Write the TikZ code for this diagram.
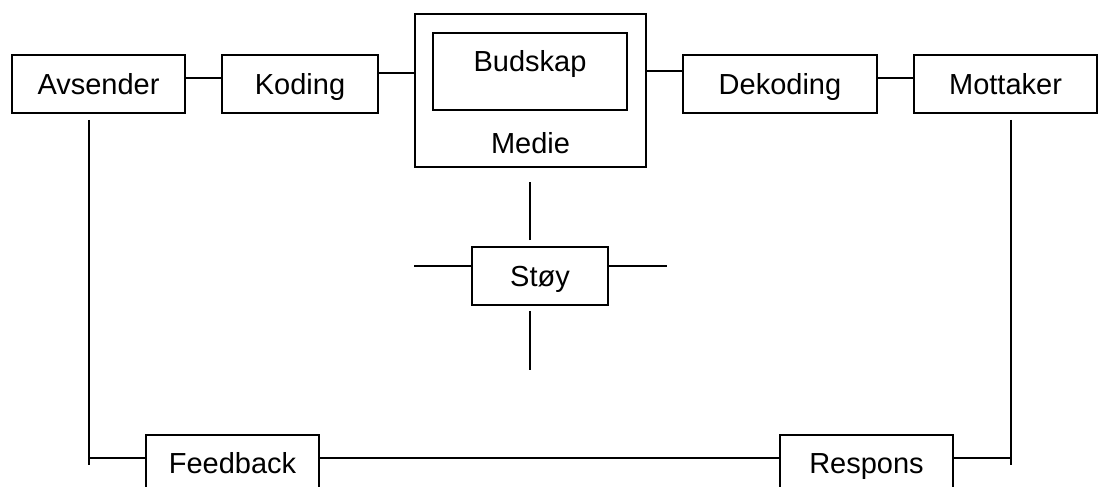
\documentclass[tikz,border=0pt]{standalone}
\usepackage{fontspec}
\setmainfont{Liberation Sans}
\begin{document}
\begin{tikzpicture}[x=1pt,y=-1pt,
  line width=1.8pt,
  box/.style={draw, rectangle, inner sep=0pt, minimum height=58pt,
    text height=20.8pt, text depth=0pt},
  lbl/.style={inner sep=0pt, text height=20.8pt, text depth=0pt},
  every node/.style={font=\fontsize{29}{34}\selectfont}]
\clip (0,0) rectangle (1098,487);
\fill[white] (0,0) rectangle (1098,487);

% top row
\node[box, minimum width=173pt] (Avsender) at (98.5,84) {Avsender};
\node[box, minimum width=156pt] (Koding) at (300,84) {Koding};
\node[box, minimum width=231pt, minimum height=153pt] (Medie) at (530.5,90.5) {};
\node[box, minimum width=194pt, minimum height=77pt] (Budskap) at (530,71.5) {};
\node[lbl] (BudskapTxt) at (530,61.5) {Budskap};
\node[lbl] (MedieTxt) at (530.5,143) {Medie};
\node[box, minimum width=194pt] (Dekoding) at (780,84) {Dekoding};
\node[box, minimum width=183pt] (Mottaker) at (1005.5,84) {Mottaker};

% noise
\node[box, minimum width=136pt] (Stoy) at (540,276) {Støy};

% feedback row
\node[box, minimum width=173pt, minimum height=57pt] (Feedback) at (232.5,463.5) {Feedback};
\node[box, minimum width=173pt, minimum height=57pt] (Respons) at (866.5,463.5) {Respons};

% links along the top row
\draw ([yshift=6pt]Avsender.east) -- ([yshift=6pt]Koding.west);
\draw ([yshift=11pt]Koding.east) -- ([yshift=11pt]Koding.east -| Medie.west);
\draw ([yshift=13pt]Dekoding.west) -- ([yshift=13pt]Dekoding.west -| Medie.east);
\draw ([yshift=6pt]Dekoding.east) -- ([yshift=6pt]Mottaker.west);

% lines around the noise box
\draw ([xshift=-10pt,yshift=6pt]Stoy.north) -- ++(0,58pt);
\draw ([xshift=-10pt,yshift=-5pt]Stoy.south) -- ++(0,-59pt);
\draw ([yshift=10pt]Stoy.west) -- ++(-57pt,0);
\draw ([yshift=10pt]Stoy.east) -- ++(58pt,0);

% feedback loop
\coordinate (fbL) at (89,458);
\coordinate (fbR) at (1011,458);
\draw ([yshift=-6pt]Avsender.south -| fbL) -- ([yshift=-7pt]fbL);
\draw (fbL) -- (Feedback.west |- fbL);
\draw (Feedback.east |- fbL) -- (Respons.west |- fbL);
\draw (Respons.east |- fbR) -- (fbR);
\draw ([yshift=-6pt]Mottaker.south -| fbR) -- ([yshift=-7pt]fbR);
\end{tikzpicture}
\end{document}
